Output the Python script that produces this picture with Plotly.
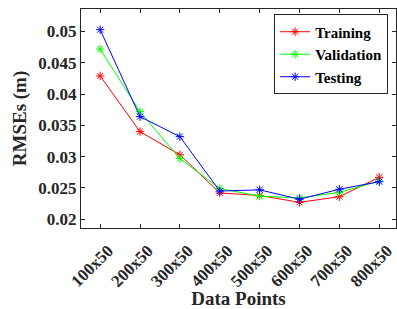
import plotly.graph_objects as go

categories = ["100x50", "200x50", "300x50", "400x50", "500x50", "600x50", "700x50", "800x50"]
training = [0.0429, 0.0340, 0.0303, 0.0242, 0.0238, 0.0227, 0.0236, 0.0267]
validation = [0.0472, 0.0372, 0.0297, 0.0249, 0.0237, 0.0234, 0.0243, 0.0261]
testing = [0.0503, 0.0364, 0.0332, 0.0245, 0.0247, 0.0232, 0.0248, 0.0260]
y_ticks = [0.02, 0.025, 0.03, 0.035, 0.04, 0.045, 0.05]
y_tick_labels = ["0.02", "0.025", "0.03", "0.035", "0.04", "0.045", "0.05"]

FONT = "Liberation Serif"
x_idx = list(range(len(categories)))

fig = go.Figure()
for name, vals, col in [("Training", training, "#ff0000"),
                        ("Validation", validation, "#00ff00"),
                        ("Testing", testing, "#0000ff")]:
    fig.add_trace(go.Scatter(
        x=x_idx, y=vals, name=name, mode="lines+markers",
        line=dict(color=col, width=1),
        marker=dict(symbol="asterisk-open", size=7, color=col, line=dict(color=col, width=1)),
    ))

fig.update_layout(
    width=397, height=309,
    margin=dict(l=81, r=1, t=9, b=81),
    paper_bgcolor="white", plot_bgcolor="white",
    font=dict(family=FONT, color="#262626"),
    legend=dict(
        x=0.975, y=0.975, xanchor="right", yanchor="top",
        bgcolor="white", bordercolor="#262626", borderwidth=1,
        font=dict(family=FONT, size=15, color="black", weight="bold"),
        tracegroupgap=0, itemwidth=30,
    ),
    showlegend=True,
)

fig.update_xaxes(
    range=[-0.48, 7.42], automargin=False,
    tickmode="array", tickvals=x_idx, ticktext=categories,
    tickangle=-45, ticklabelstandoff=5, ticklabelshift=8,
    ticks="inside", ticklen=4, tickcolor="#262626",
    showline=True, linecolor="#262626", linewidth=1, mirror="ticks",
    showgrid=False, zeroline=False,
    tickfont=dict(family=FONT, size=17, color="#262626", weight="bold"),
    title=dict(text="<b>Data Points</b>", font=dict(family=FONT, size=19, color="#262626"), standoff=0),
)
fig.update_yaxes(
    range=[0.0186, 0.0536], automargin=False,
    tickmode="array", tickvals=y_ticks, ticktext=y_tick_labels,
    ticks="inside", ticklen=4, tickcolor="#262626",
    showline=True, linecolor="#262626", linewidth=1, mirror="ticks",
    showgrid=False, zeroline=False,
    tickfont=dict(family=FONT, size=17, color="#262626", weight="bold"),
    title=dict(text="<b>RMSEs (m)</b>", font=dict(family=FONT, size=19, color="#262626"), standoff=6),
)

fig.write_html("out.html", config={"displayModeBar": False},
               post_script="document.body.style.margin='0';document.body.style.overflow='hidden';")
